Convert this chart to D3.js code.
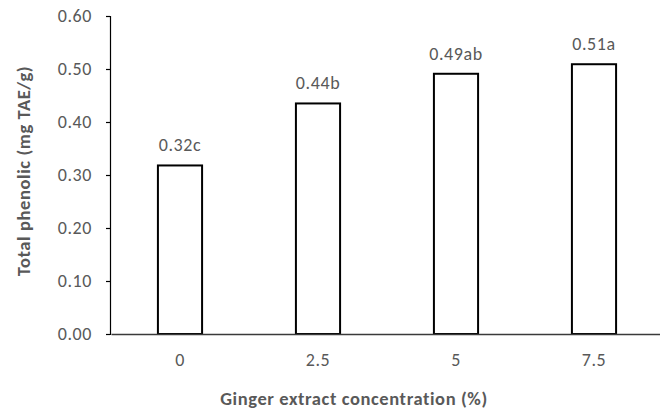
<!DOCTYPE html>
<html>
<head>
<meta charset="utf-8">
<script src="https://cdn.jsdelivr.net/npm/d3@7"></script>
<style>
  body { margin: 0; background: #fff; }
  svg text { font-family: Carlito, Lato, "Open Sans", sans-serif; fill: #595959; letter-spacing: 0.6px; }
</style>
</head>
<body>
<div id="chart"></div>
<script>
// data
var categories = ["0", "2.5", "5", "7.5"];
var values = [0.318, 0.435, 0.491, 0.509];
var labels = ["0.32c", "0.44b", "0.49ab", "0.51a"];
var yTicks = [0, 0.1, 0.2, 0.3, 0.4, 0.5, 0.6];

var width = 660, height = 412;
var margin = {top: 16, right: -3, bottom: 78, left: 111};

var svg = d3.select("#chart").append("svg")
    .attr("width", width)
    .attr("height", height);

var xScale = d3.scaleBand()
    .domain(categories)
    .range([margin.left, width - margin.right])
    .paddingInner(0.68)
    .paddingOuter(0.34);

var yScale = d3.scaleLinear()
    .domain([0, 0.6])
    .range([height - margin.bottom, margin.top]);

// bars
svg.selectAll("rect.bar")
    .data(values)
  .enter().append("rect")
    .attr("class", "bar")
    .attr("x", function(d, i) { return xScale(categories[i]); })
    .attr("y", function(d) { return yScale(d); })
    .attr("width", xScale.bandwidth())
    .attr("height", function(d) { return yScale(0) - yScale(d); })
    .attr("fill", "#fff")
    .attr("stroke", "#000")
    .attr("stroke-width", 2);

// value labels
svg.selectAll("text.val")
    .data(values)
  .enter().append("text")
    .attr("class", "val")
    .attr("x", function(d, i) { return xScale(categories[i]) + xScale.bandwidth() / 2; })
    .attr("y", function(d) { return yScale(d) - 14; })
    .attr("text-anchor", "middle")
    .style("font-size", "18px")
    .text(function(d, i) { return labels[i]; });

// y axis
var yAxis = svg.append("g")
    .attr("transform", "translate(" + (margin.left - 1) + ",0)")
    .call(d3.axisLeft(yScale).tickValues(yTicks).tickFormat(d3.format(".2f")).tickSize(4).tickPadding(14));
yAxis.selectAll("text").style("font-size", "18px").attr("fill", "#595959");
yAxis.selectAll("line").attr("stroke", "#000").attr("stroke-width", 1.2);
yAxis.select("path.domain").attr("stroke", "#000").attr("stroke-width", 1.2);

// x axis
var xAxis = svg.append("g")
    .attr("transform", "translate(0," + yScale(0) + ")")
    .call(d3.axisBottom(xScale).tickSize(0).tickPadding(19).tickSizeOuter(0));
xAxis.selectAll("text").style("font-size", "18px").attr("fill", "#595959");
xAxis.select("path.domain").attr("stroke", "#3a3a3a").attr("stroke-width", 1.6);

// axis titles
svg.append("text")
    .attr("x", 354)
    .attr("y", 405)
    .attr("text-anchor", "middle")
    .style("font-size", "18.5px")
    .style("font-weight", "bold")
    .text("Ginger extract concentration (%)");

svg.append("text")
    .attr("transform", "translate(30,171) rotate(-90)")
    .attr("text-anchor", "middle")
    .style("font-size", "18.5px")
    .style("font-weight", "bold")
    .text("Total phenolic (mg TAE/g)");
</script>
</body>
</html>
